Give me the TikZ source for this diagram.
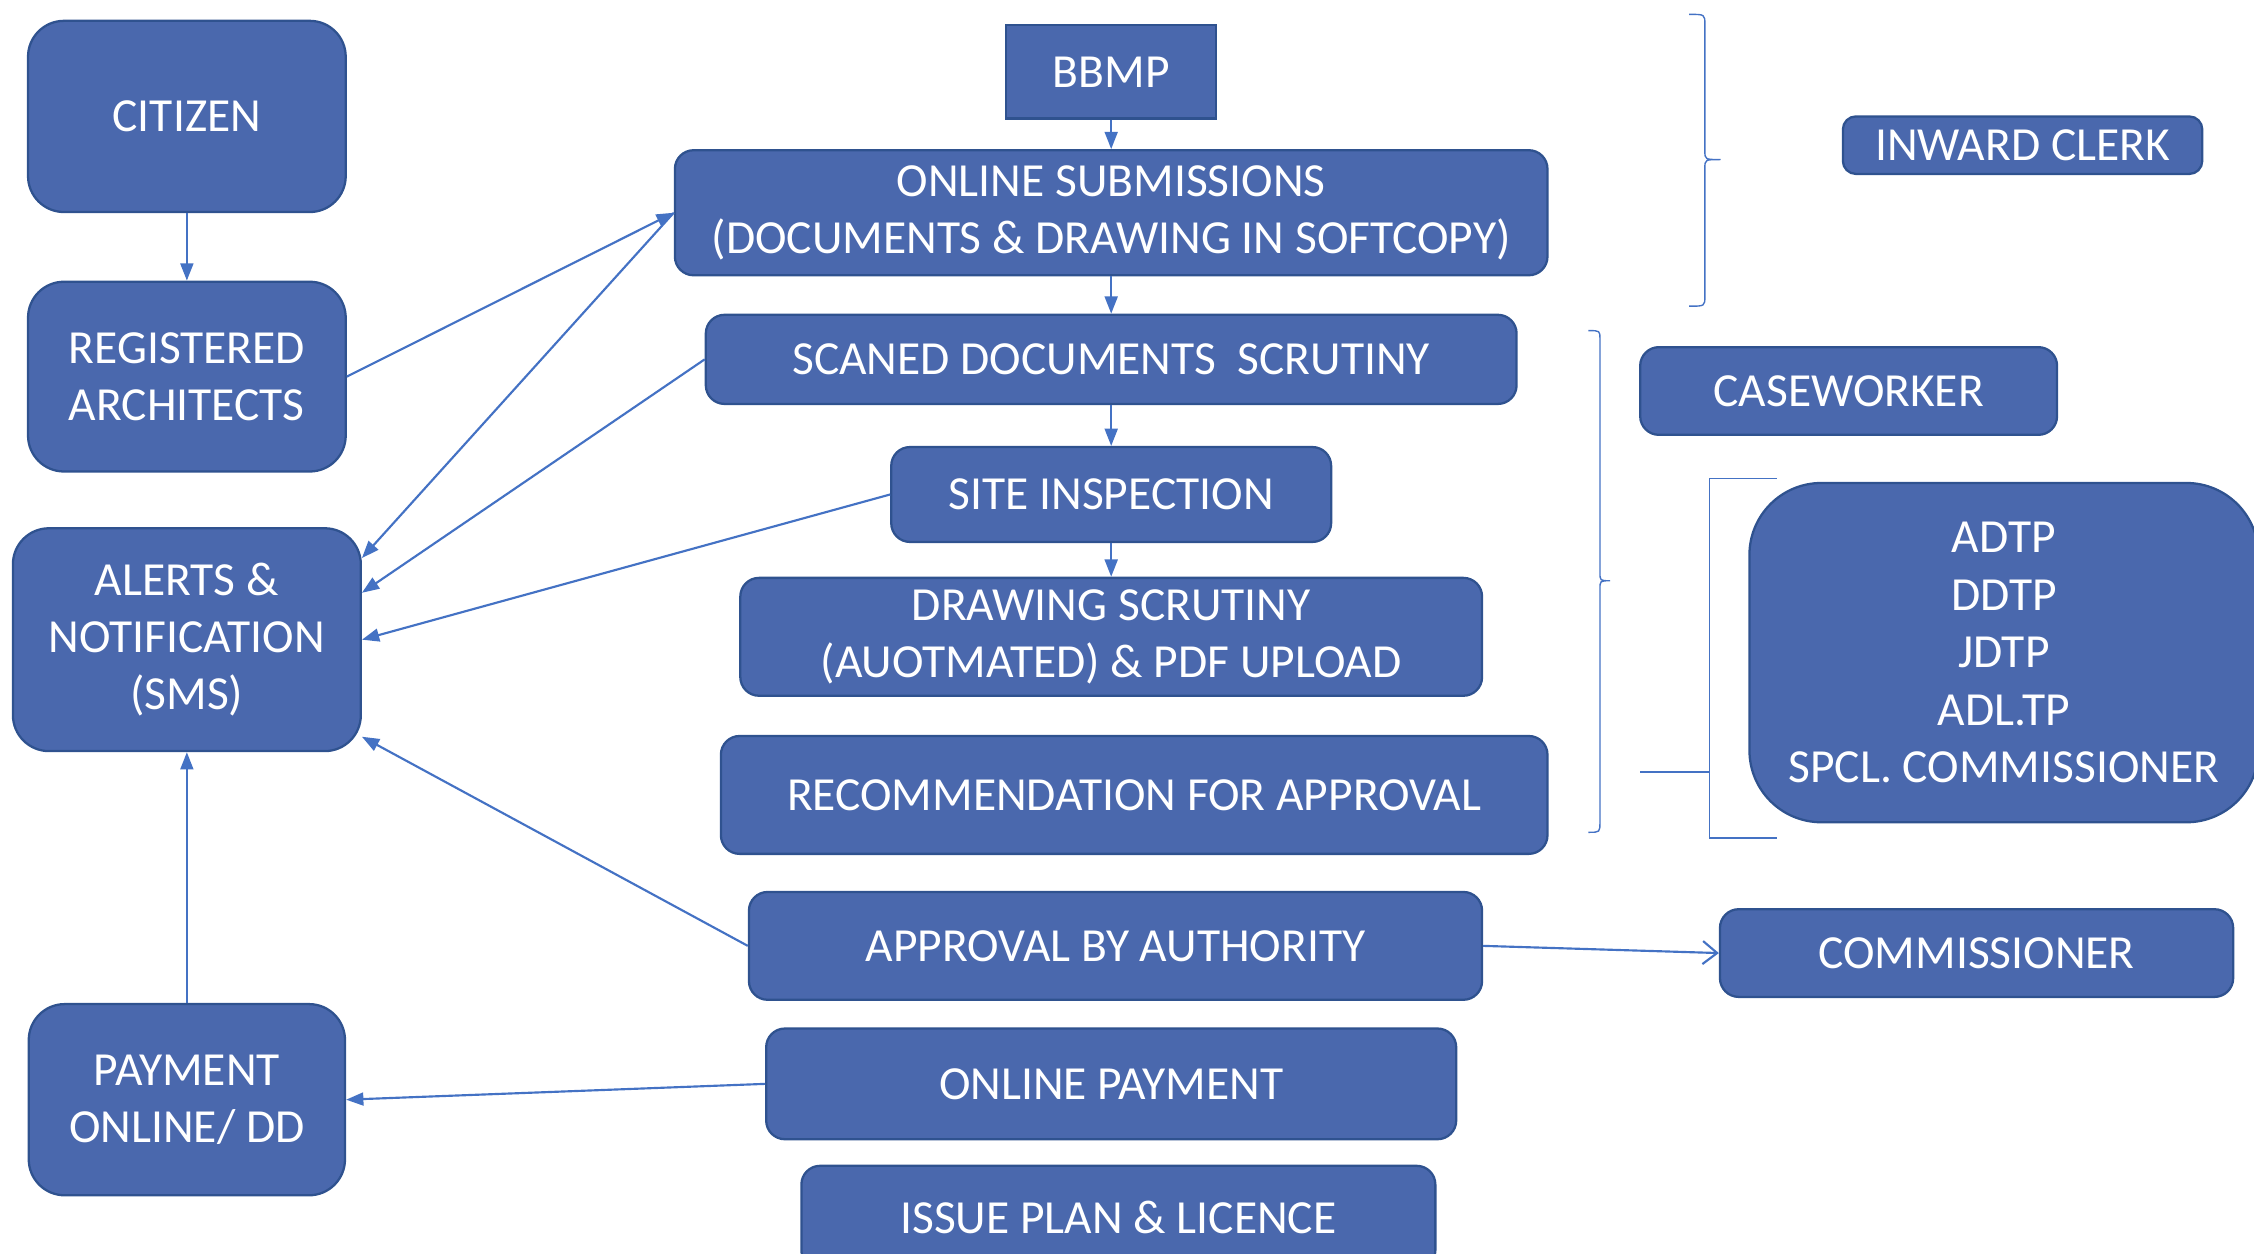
\documentclass[tikz,border=0pt]{standalone}
\usepackage{fontspec}
\setmainfont{Carlito}
\usetikzlibrary{arrows.meta}
\definecolor{boxfill}{RGB}{74,104,173}
\definecolor{boxline}{RGB}{47,82,143}
\definecolor{linkblue}{RGB}{68,114,196}

\begin{document}
\begin{tikzpicture}[x=0.2mm, y=-0.2mm,
  box/.style={draw=boxline, fill=boxfill, text=white, line width=0.9pt,
    rounded corners=2.6mm, align=center, inner sep=0pt,
    font=\fontsize{18.8pt}{22.7pt}\selectfont},
  link/.style={draw=linkblue, line width=0.85pt, -{Triangle[length=2.4mm,width=1.8mm]}},
  brk/.style={draw=linkblue, line width=0.55pt}]
\clip (0,0) rectangle (1568,872);

% left column
\node[box, rounded corners=5mm, minimum width=44.2mm, minimum height=26.6mm] (citizen) at (130,81) {CITIZEN};
\node[box, rounded corners=5mm, minimum width=44.2mm, minimum height=26.4mm] (arch) at (130,262) {REGISTERED\\ARCHITECTS};
\node[box, rounded corners=5mm, minimum width=48.4mm, minimum height=31mm] (alerts) at (130,445) {ALERTS \&\\NOTIFICATION\\(SMS)};
\node[box, rounded corners=5mm, minimum width=44mm, minimum height=26.6mm] (payment) at (130,765) {PAYMENT\\ONLINE/ DD};

% middle column
\node[box, rounded corners=0pt, minimum width=29.2mm, minimum height=13mm] (bbmp) at (773,50) {BBMP};
\node[box, minimum width=121.4mm, minimum height=17.4mm] (submit) at (773,148) {ONLINE SUBMISSIONS\\(DOCUMENTS \& DRAWING IN SOFTCOPY)};
\node[box, minimum width=112.8mm, minimum height=12.4mm] (scan) at (773,250) {SCANED DOCUMENTS~ SCRUTINY};
\node[box, minimum width=61.2mm, minimum height=13.2mm] (site) at (773,344) {SITE INSPECTION};
\node[box, minimum width=103.2mm, minimum height=16.4mm] (drawing) at (773,443) {DRAWING SCRUTINY\\(AUOTMATED) \& PDF UPLOAD};
\node[box, minimum width=115mm, minimum height=16.4mm] (recommend) at (789,553) {RECOMMENDATION FOR APPROVAL};
\node[box, minimum width=102mm, minimum height=15mm] (approve) at (776,658) {APPROVAL BY AUTHORITY};
\node[box, minimum width=96mm, minimum height=15.4mm] (payonline) at (773,754) {ONLINE PAYMENT};
\node[box, minimum width=88.2mm, minimum height=14.4mm] (issue) at (778,847) {ISSUE PLAN \& LICENCE};

% right column
\node[box, rounded corners=1.8mm, minimum width=50mm, minimum height=8mm] (clerk) at (1407,101) {INWARD CLERK};
\node[box, minimum width=58mm, minimum height=12.2mm] (caseworker) at (1286,272) {CASEWORKER};
\node[box, rounded corners=10mm, minimum width=70.8mm, minimum height=47.2mm] (officers) at (1394,454) {ADTP\\DDTP\\JDTP\\ADL.TP\\SPCL. COMMISSIONER};
\node[box, minimum width=71.4mm, minimum height=12.2mm] (commish) at (1375,663) {COMMISSIONER};

% flow
\draw[link] (citizen) -- (arch);
\draw[link] (bbmp) -- (submit);
\draw[link] (submit) -- (scan);
\draw[link] (scan) -- (site);
\draw[link] (site) -- (drawing);
\draw[link] (arch.east) -- (submit.west);
\draw[link] (submit.west) -- (alerts.25);
\draw[link] (scan.west) -- (alerts.15);
\draw[link] (site.west) -- (alerts.east);
\draw[link] (approve.west) -- (alerts.-29);
\draw[link] (payment) -- (alerts);
\draw[link] (payonline.west) -- (payment.east);
\draw[draw=linkblue, line width=0.85pt, -{Straight Barb[length=2mm,width=3.2mm]}] (approve.east) -- (commish.west);

% braces
\draw[brk] (1175,10) .. controls (1186,10) .. (1186,17) -- (1186,105)
  .. controls (1186,111) .. (1197,111) .. controls (1186,111) .. (1186,117)
  -- (1186,206) .. controls (1186,213) .. (1175,213);
\draw[brk] (1105,230) .. controls (1113,230) .. (1113,236) -- (1113,398)
  .. controls (1113,404) .. (1120,404) .. controls (1113,404) .. (1113,410)
  -- (1113,572) .. controls (1113,579) .. (1105,579);
\draw[brk] (1236,333) -- (1189,333) -- (1189,583) -- (1236,583);
\draw[brk] (1141,537) -- (1189,537);
\end{tikzpicture}
\end{document}
